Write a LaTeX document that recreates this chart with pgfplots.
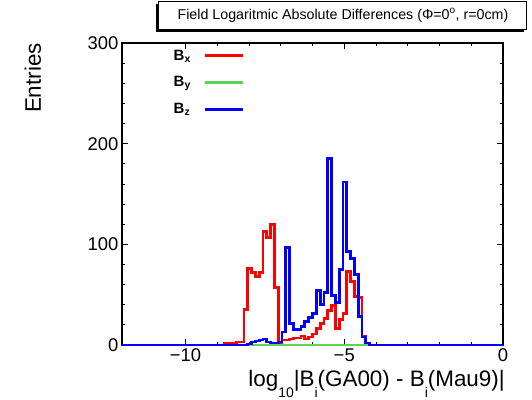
\documentclass[border=0pt]{standalone}
\usepackage{fontspec}
\setmainfont{Liberation Sans}
\usepackage{pgfplots}
\usepackage{pgfplotstable}
\pgfplotsset{compat=1.18}
\usetikzlibrary{shadows}
\definecolor{rootred}{RGB}{255,0,0}
\definecolor{rootgreen}{RGB}{89,212,84}
\definecolor{rootblue}{RGB}{0,0,255}

% bin left edges (bin width 0.12), entries of Bx, By, Bz
\pgfplotstableread{
x      bx   by  bz
-12.00 0    0   0
-8.76  2    0   0
-8.64  2    0   0
-8.52  2    0   0
-8.40  3    0   0
-8.28  3    0   0
-8.16  35   0   0
-8.04  76   0   1
-7.92  72   0   3
-7.80  68   0   4
-7.68  72   0   5
-7.56  113  0   6
-7.44  107  0   3
-7.32  120  0   2
-7.20  57   0   2
-7.08  2    0   3
-6.96  5    0   13
-6.84  5    0   97
-6.72  6    0   21
-6.60  7    0   15
-6.48  7    0   15
-6.36  9    0   18
-6.24  6    0   23
-6.12  8    0   27
-6.00  11   0   31
-5.88  16   0   54
-5.76  21   0   40
-5.64  26   0   52
-5.52  34   0   185
-5.40  39   0   49
-5.28  16   0   42
-5.16  25   0   75
-5.04  31   0   162
-4.92  73   0   93
-4.80  63   0   86
-4.68  48   0   70
-4.56  47   0   28
-4.44  9    0   8
-4.32  2    0   2
-4.20  0    0   0
0.00   0    0   0
}\histdata

\begin{document}
\begin{tikzpicture}
\useasboundingbox (0,0) rectangle (532bp,400bp);
\begin{axis}[
  at={(122bp,55bp)}, anchor=south west,
  scale only axis, width=381bp, height=302bp,
  xmin=-12, xmax=0, ymin=0, ymax=300,
  xtick={-10,-5,0}, xticklabels={−10,−5,0},
  ytick={0,100,200,300},
  minor x tick num=4, minor y tick num=4,
  tick align=inside,
  major tick length=6bp, minor tick length=3bp,
  every tick/.style={black, line width=0.8bp},
  axis line style={line width=1.6bp},
  /pgf/number format/assume math mode=true,
  ticklabel style={font=\fontsize{18.5}{18.5}\selectfont},
  clip=false,
  xlabel={log\raisebox{-11bp}{\fontsize{14}{14}\selectfont 10}|B\raisebox{-11bp}{\fontsize{14}{14}\selectfont i}(GA00) - B\raisebox{-11bp}{\fontsize{14}{14}\selectfont i}(Mau9)|},
  ylabel={Entries},
  label style={font=\fontsize{22.5}{22.5}\selectfont},
  xlabel style={at={(axis description cs:1.005,-0.138)}, anchor=base east, inner sep=0pt},
  ylabel style={at={(axis description cs:-0.234,1)}, anchor=east, inner sep=0pt},
  title={Field Logaritmic Absolute Differences (Φ=0\textsuperscript{o}, r=0cm)},
  title style={at={(axis description cs:0.58,1.0722)}, anchor=center, draw=black, line width=1bp, fill=white, minimum width=368bp, minimum height=28bp, inner sep=0pt, font=\fontsize{14.3}{14.3}\selectfont, drop shadow={shadow xshift=-3bp, shadow yshift=-3bp, fill=black, opacity=1}},
  legend plot pos=right,
  legend style={at={(axis description cs:0.13,0.985)}, anchor=north west, draw=none, fill=none, font=\fontsize{15}{15}\selectfont\bfseries, row sep=11bp, column sep=11bp, inner sep=0pt, cells={anchor=west}},
  legend image code/.code={\draw[#1, line width=2.8bp] (0bp,0bp) -- (38bp,0bp);},
]
\addplot[const plot, rootred, line width=2.8bp] table[x=x, y=bx] {\histdata};
\addlegendentry{B\textsubscript{x}}
\addplot[const plot, rootgreen, line width=2.8bp] table[x=x, y=by] {\histdata};
\addlegendentry{B\textsubscript{y}}
\addplot[const plot, rootblue, line width=2.8bp] table[x=x, y=bz] {\histdata};
\addlegendentry{B\textsubscript{z}}
\end{axis}
\end{tikzpicture}
\end{document}
